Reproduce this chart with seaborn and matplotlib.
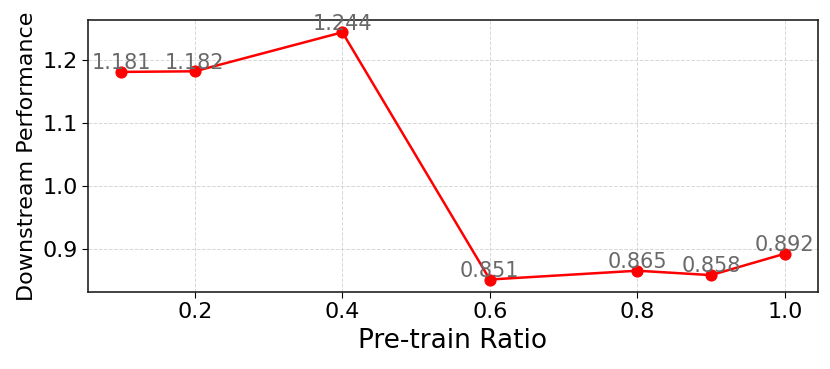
import matplotlib
matplotlib.use("Agg")
import matplotlib.pyplot as plt
import seaborn as sns
import pandas as pd

ratios = [0.1, 0.2, 0.4, 0.6, 0.8, 0.9, 1.0]
performance = [1.181, 1.182, 1.244, 0.851, 0.865, 0.858, 0.892]
x_ticks = [0.2, 0.4, 0.6, 0.8, 1.0]
y_ticks = [0.9, 1.0, 1.1, 1.2]

df = pd.DataFrame({"ratio": ratios, "perf": performance})

sns.set_style("white")
plt.rcParams['font.family'] = ['DejaVu Sans']

fig, ax = plt.subplots(figsize=(8.3, 3.69), dpi=100)
sns.lineplot(data=df, x="ratio", y="perf", color="red", marker="o",
             markersize=8, markeredgecolor="red", linewidth=1.8, ax=ax)

for xv, yv in zip(ratios, performance):
    ax.annotate(f"{yv:.3f}", (xv, yv), xytext=(0, 2), textcoords="offset points",
                ha="center", va="baseline", fontsize=15, color="dimgray")

ax.set_xticks(x_ticks)
ax.set_yticks(y_ticks)
ax.tick_params(axis="both", labelsize=16, length=4, color="black",
               labelcolor="black", left=True, bottom=True)
ax.set_xlabel("Pre-train Ratio", fontsize=19, color="black")
ax.set_ylabel("Downstream Performance", fontsize=16, color="black")
ax.grid(True, linestyle="--", color="lightgray", linewidth=0.7, alpha=0.9)
for s in ax.spines.values():
    s.set_color("#222222")
    s.set_linewidth(1.2)

fig.subplots_adjust(left=0.106, right=0.9855, top=0.946, bottom=0.209)
fig.savefig("out.png", dpi=100)
